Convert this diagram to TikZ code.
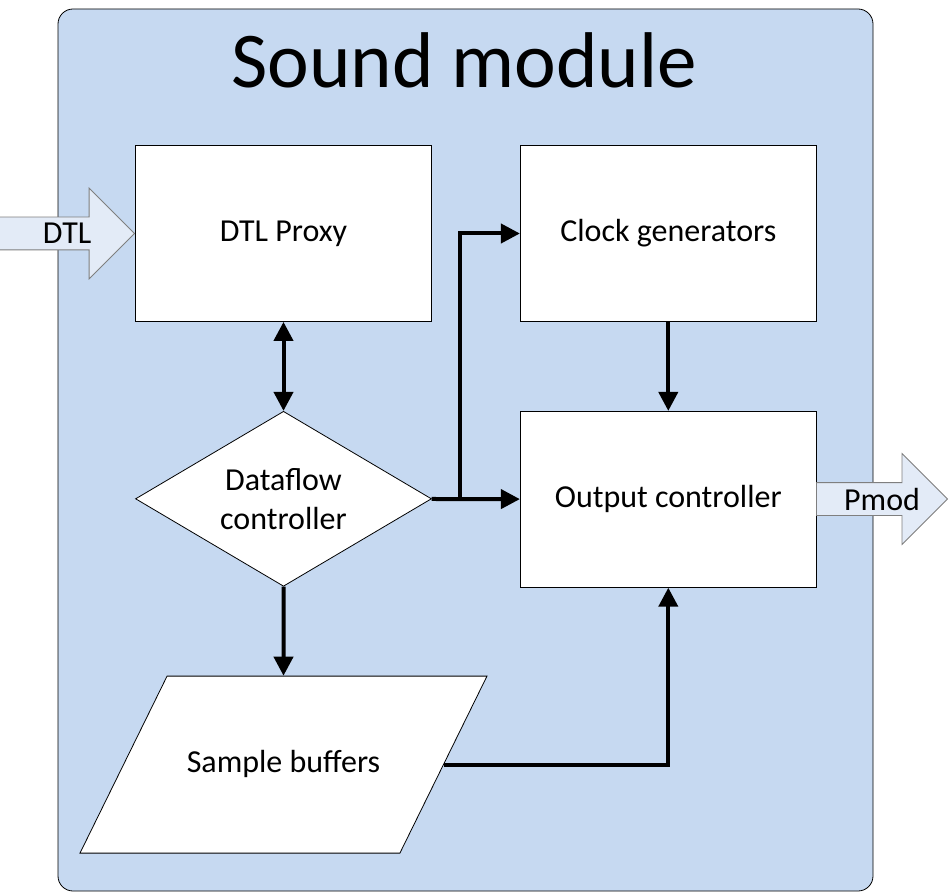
\documentclass[tikz,border=0pt]{standalone}
\usepackage{fontspec}
\setmainfont{Carlito}
\usetikzlibrary{positioning, calc}
\usetikzlibrary{shapes.geometric, shapes.arrows, arrows.meta}
\definecolor{modulefill}{HTML}{C6D9F1}
\definecolor{arrowfill}{HTML}{E3EBF7}
\definecolor{arrowline}{HTML}{7F7F7F}

\begin{document}
\begin{tikzpicture}[
    x=1pt, y=-1pt,
    node distance = 89pt and 88pt,% for distance between nodes
       box/.style = {draw, fill=white, line width=0.8pt, minimum width=296pt,
                     minimum height=176pt, inner sep=0pt, font=\fontsize{32}{39}\selectfont},% nodes style
    decision/.style = {box, diamond, aspect=1.7, minimum height=175pt, align=center},
    buffer/.style = {box, trapezium, trapezium left angle=63.8, trapezium right angle=116.2,
                     trapezium stretches body, minimum width=407pt, minimum height=0pt,
                     text height=24pt, text depth=8pt, inner ysep=72.5pt},
    blockarrow/.style = {single arrow, draw=arrowline, fill=arrowfill, line width=0.8pt,
                     minimum width=0pt, inner xsep=0pt, inner ysep=16pt,
                     single arrow head extend=29pt, single arrow tip angle=90},
    portlabel/.style = {font=\fontsize{32}{39}\selectfont},
    flow/.style = {line width=4pt, -{Triangle[length=19pt,width=19pt]}},
    bothflow/.style = {line width=4pt, {Triangle[length=19pt,width=19pt]}-{Triangle[length=19pt,width=19pt]}}
    ]
    \useasboundingbox (0,0) rectangle (950,893);
    \draw[fill=modulefill, line width=0.8pt, rounded corners=15pt] (58,9) rectangle (873,891);
    \node (title) [anchor=base, font=\fontsize{79}{90}\selectfont] at (464,88) {Sound module};
    % blocks
    \node (proxy) [box] at (283.5,233.5) {DTL Proxy};
    \node (clock) [box, right=of proxy] {Clock generators};
    \node (dataflow) [decision, below=of proxy] {Dataflow\\controller};
    \node (output) [box, below=of clock] {Output controller};
    \node (sample) [buffer, below=of dataflow] {Sample buffers};
    % ports
    \node (dtl) [blockarrow, minimum height=135pt, anchor=tip] at (proxy.west) {};
    \node (pmod) [blockarrow, minimum height=131pt, anchor=tip] at (948,499) {};
    \node (dtltext) [portlabel] at ($(dtl.tail)!0.5!(dtl.tip)$) {DTL};
    \node (pmodtext) [portlabel] at ($(pmod.tail)!0.5!(pmod.tip)$) {Pmod};
    % connectors
    \draw[bothflow] (proxy) -- (dataflow);
    \draw[flow] (dataflow) -- (output);
    \draw[flow] (dataflow.east) -- ++(28,0) |- (clock);
    \draw[flow] (clock) -- (output);
    \draw[flow] (dataflow) -- (sample);
    \draw[flow] (sample.right side) -| (output);
\end{tikzpicture}
\end{document}
